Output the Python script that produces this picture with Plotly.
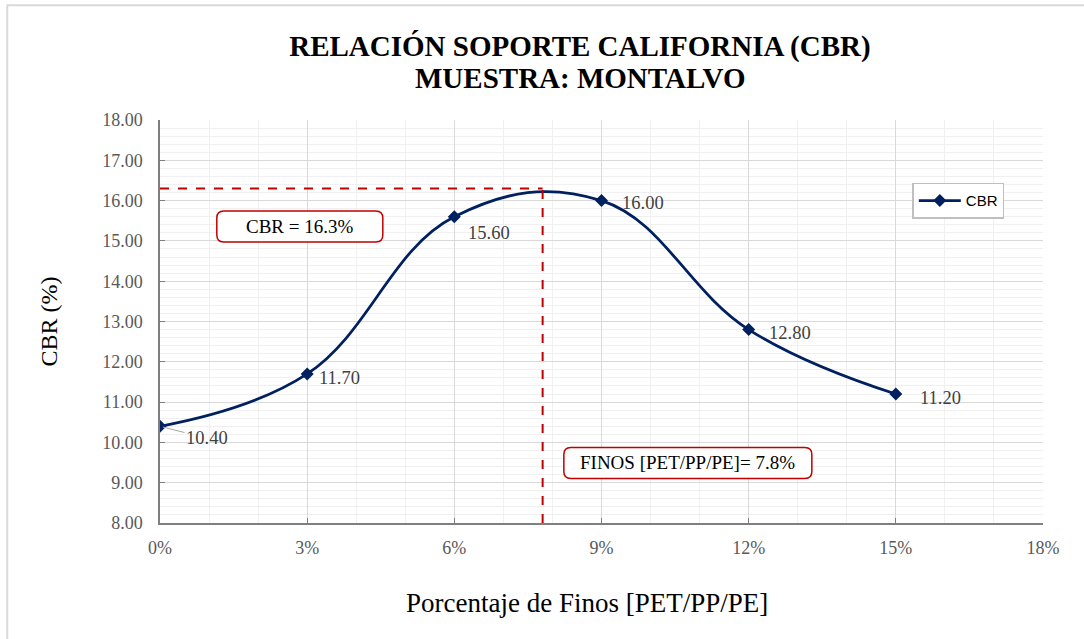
import plotly.graph_objects as go

# ---- data ----
finos = [0.00, 0.03, 0.06, 0.09, 0.12, 0.15]          # fraction of fines
cbr = [10.40, 11.70, 15.60, 16.00, 12.80, 11.20]       # CBR (%)
cbr_labels = ["10.40", "11.70", "15.60", "16.00", "12.80", "11.20"]
label_dx = [0, 10, 12, 18, 18, 22]
label_dy = [0, -4, -16, -2, -3, -4]
cbr_max = 16.3
finos_opt = 0.078
x_ticks = [0.00, 0.03, 0.06, 0.09, 0.12, 0.15, 0.18]
x_range = [0, 0.18]
y_range = [8, 18]

NAVY = "#002060"
RED = "#C00000"
SERIF = "Times New Roman, Liberation Serif, serif"

W, H = 1084, 639
M = dict(l=160, r=41, t=120, b=116)
PW = W - M["l"] - M["r"]
PH = H - M["t"] - M["b"]
sx = (x_range[1] - x_range[0]) / PW   # data units per pixel
sy = (y_range[1] - y_range[0]) / PH


def rounded_box(cx, cy, wpx, hpx, rpx):
    """Rounded rectangle path in data coords around a centre, size in pixels."""
    x0, x1 = cx - wpx / 2 * sx, cx + wpx / 2 * sx
    y0, y1 = cy - hpx / 2 * sy, cy + hpx / 2 * sy
    rx, ry = rpx * sx, rpx * sy
    return (f"M{x0+rx},{y0} L{x1-rx},{y0} Q{x1},{y0} {x1},{y0+ry} "
            f"L{x1},{y1-ry} Q{x1},{y1} {x1-rx},{y1} L{x0+rx},{y1} "
            f"Q{x0},{y1} {x0},{y1-ry} L{x0},{y0+ry} Q{x0},{y0} {x0+rx},{y0} Z")


fig = go.Figure()

fig.add_trace(go.Scatter(
    x=finos, y=cbr, name="CBR", mode="lines+markers",
    line=dict(color=NAVY, width=2.75, shape="spline", smoothing=1.15),
    marker=dict(symbol="diamond", size=10, color=NAVY),
))

# dashed reference lines
fig.add_shape(type="line", xref="x", yref="y", x0=0, x1=finos_opt, y0=cbr_max, y1=cbr_max,
              line=dict(color=RED, width=2, dash="dash"))
fig.add_shape(type="line", xref="x", yref="y", x0=finos_opt, x1=finos_opt, y0=y_range[0], y1=cbr_max,
              line=dict(color=RED, width=2, dash="dash"))

# outer chart border
fig.add_shape(type="rect", xref="paper", yref="paper", x0=-0.173, x1=1.2, y0=-0.5, y1=1.285,
              line=dict(color="#d9d9d9", width=2), layer="below")

# data labels
for i, (xv, yv, t) in enumerate(zip(finos, cbr, cbr_labels)):
    if i == 0:
        fig.add_annotation(x=xv, y=yv, text=t, showarrow=True, ax=47, ay=12,
                           arrowhead=0, arrowcolor="#a6a6a6", arrowwidth=1, standoff=3,
                           font=dict(family=SERIF, size=18.5, color="#404040"))
    else:
        fig.add_annotation(x=xv, y=yv, text=t, showarrow=False, xanchor="left",
                           xshift=label_dx[i], yshift=label_dy[i],
                           font=dict(family=SERIF, size=18.5, color="#404040"))

# boxed notes (rounded red frames)
notes = [
    (0.0285, 15.36, "CBR = %.1f%%" % cbr_max, 166),
    (0.1076, 9.49, "FINOS [PET/PP/PE]= %.1f%%" % (finos_opt * 100), 248),
]
for cx, cy, txt, wpx in notes:
    fig.add_shape(type="path", xref="x", yref="y", path=rounded_box(cx, cy, wpx, 31, 7),
                  line=dict(color=RED, width=1.5), fillcolor="white")
    fig.add_annotation(x=cx, y=cy, text=txt, showarrow=False,
                       font=dict(family=SERIF, size=19, color="#000000"))

# title second line
fig.add_annotation(xref="paper", yref="paper", x=0.4757, y=1.104, text="<b>MUESTRA: MONTALVO</b>",
                   showarrow=False, xanchor="center", yanchor="middle",
                   font=dict(family=SERIF, size=29, color="#000000"))
# x axis title
fig.add_annotation(xref="paper", yref="paper", x=0.4836, y=-0.1985, text="Porcentaje de Finos [PET/PP/PE]",
                   showarrow=False, xanchor="center", yanchor="middle",
                   font=dict(family=SERIF, size=27, color="#000000"))

fig.update_layout(
    width=W, height=H,
    margin=M,
    paper_bgcolor="white", plot_bgcolor="white",
    title=dict(text="<b>RELACIÓN SOPORTE CALIFORNIA (CBR)</b>",
               x=0.535, xanchor="center", y=1 - 46 / H, yanchor="middle", yref="container",
               font=dict(family=SERIF, size=29, color="#000000")),
    legend=dict(x=0.852, y=0.844, xanchor="left", yanchor="top",
                bordercolor="#bfbfbf", borderwidth=1.5, bgcolor="white", itemwidth=42,
                font=dict(family="Liberation Sans", size=15, color="#000000")),
    showlegend=True,
)

fig.update_xaxes(
    range=x_range, tickvals=x_ticks, tickformat=".0%",
    showgrid=True, gridcolor="#d9d9d9", gridwidth=1.2,
    minor=dict(dtick=0.01, showgrid=True, gridcolor="#f0f0f0", gridwidth=1.2),
    showline=True, linecolor="#7f7f7f", linewidth=1.5,
    ticks="inside", ticklen=5, tickcolor="#7f7f7f", ticklabelstandoff=8,
    tickfont=dict(family=SERIF, size=18, color="#595959"),
    zeroline=False,
)
fig.update_yaxes(
    range=y_range, dtick=1, tickformat=".2f",
    showgrid=True, gridcolor="#d9d9d9", gridwidth=1.2,
    minor=dict(dtick=0.2, showgrid=True, gridcolor="#f0f0f0", gridwidth=1.2),
    showline=True, linecolor="#7f7f7f", linewidth=1.5,
    ticks="inside", ticklen=5, tickcolor="#7f7f7f", ticklabelstandoff=12,
    tickfont=dict(family=SERIF, size=18, color="#595959"),
    zeroline=False,
    title=dict(text="CBR (%)", standoff=38,
               font=dict(family=SERIF, size=24, color="#000000")),
)

fig.write_html("out.html", config={"displayModeBar": False},
               post_script="document.body.style.margin='0px';")
